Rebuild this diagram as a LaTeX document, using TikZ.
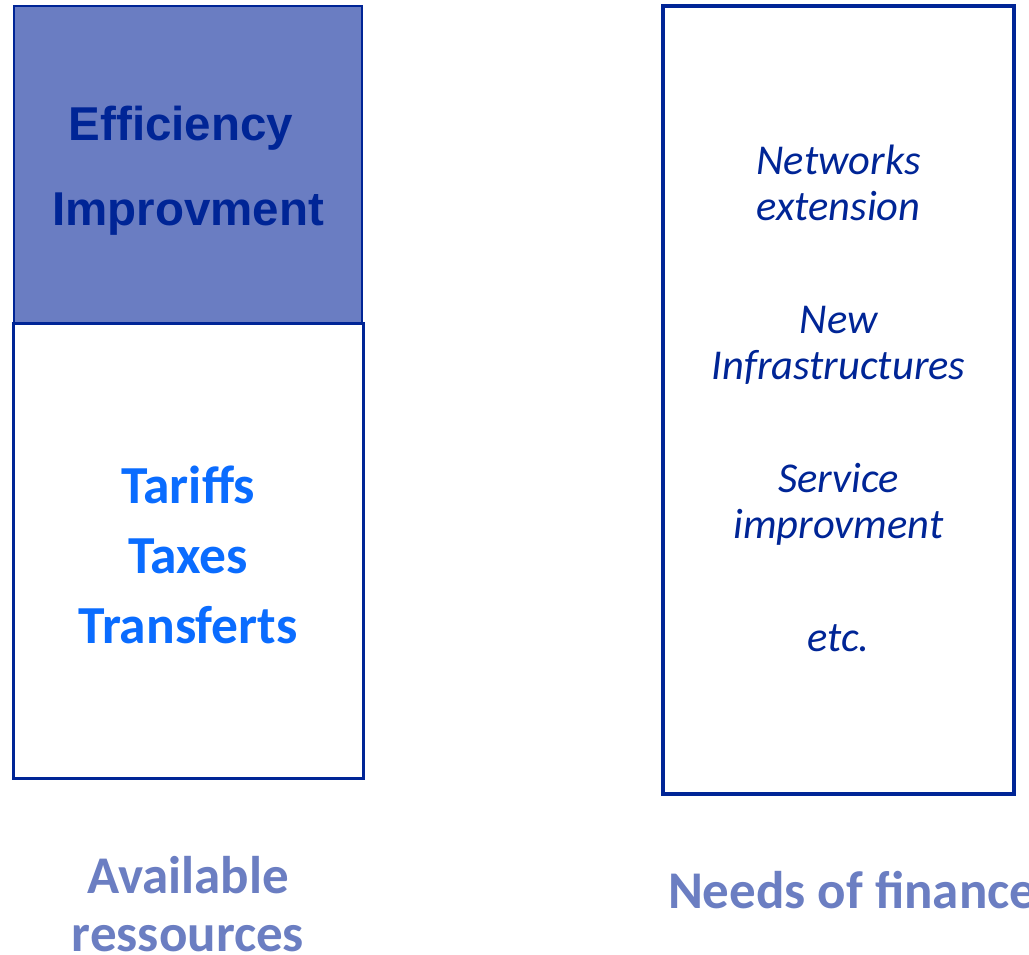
\documentclass[tikz,border=0pt]{standalone}
\usepackage{fontspec}
\usepackage{xcolor}
\usepackage{tikz}
\usetikzlibrary{positioning}
\newfontfamily\carlitofont{Carlito}
\newfontfamily\arialfont{Liberation Sans}
\definecolor{findark}{RGB}{0, 37, 150}
\definecolor{finfill}{RGB}{106, 125, 194}
\definecolor{finlight}{RGB}{10, 108, 255}
\definecolor{finlabel}{RGB}{107, 126, 194}

\begin{document}
\begin{tikzpicture}[
    x=1pt, y=-1pt,
    every node/.style={align=center, inner sep=0pt, outer sep=0pt},
    effbox/.style={rectangle, draw=findark, fill=finfill, line width=1.5pt, minimum width=348pt, minimum height=317pt},
    resbox/.style={rectangle, draw=findark, fill=white, line width=3pt, minimum width=350pt, minimum height=455pt},
    needbox/.style={rectangle, draw=findark, line width=4pt, minimum width=351pt, minimum height=788pt},
    efftext/.style={font=\arialfont\bfseries\fontsize{47.5pt}{85pt}\selectfont, text=findark},
    restext/.style={font=\carlitofont\bfseries\fontsize{53.5pt}{70pt}\selectfont, text=finlight},
    needtext/.style={font=\carlitofont\itshape\fontsize{42.5pt}{46pt}\selectfont, text=findark},
    caption/.style={font=\carlitofont\bfseries\fontsize{53pt}{58pt}\selectfont, text=finlabel}
]
    \useasboundingbox (0,0) rectangle (1029,954);

    % the three boxes
    \node[effbox] (eff) at (188,164.5) {};
    \node[resbox] (res) at (188,550.5) {};
    \node[needbox] (needs) at (838.5,400) {};

    % their contents
    \node[efftext] (efft) at (188,171) {Efficiency\hspace*{14pt}\\Improvment};
    \node[restext] (rest) at (188,555) {Tariffs\\Taxes\\Transferts};
    \node[needtext] (needt) at (838.5,398) {Networks\\extension\\[67pt]New\\Infrastructures\\[67pt]Service\\improvment\\[67pt]etc.};

    % captions under the boxes
    \node[caption] (avail) at (188,904) {Available\\ressources};
    \node[caption, anchor=west] (finance) at (668,890) {Needs of finance};
\end{tikzpicture}
\end{document}
